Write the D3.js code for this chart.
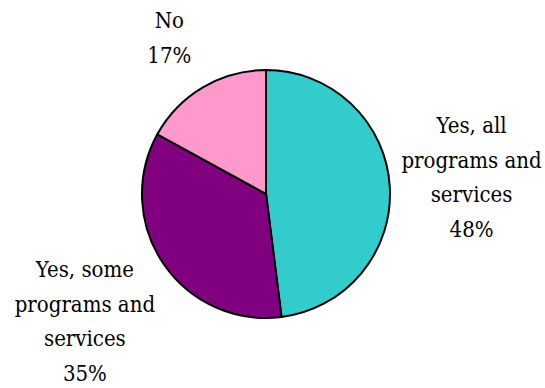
<!DOCTYPE html>
<html><head><meta charset="utf-8">
<script src="https://cdn.jsdelivr.net/npm/d3@7"></script>
<style>html,body{margin:0;padding:0;background:#fff;}svg{display:block;}</style>
</head><body>
<svg id="c" width="545" height="388"></svg>
<script>
const categories = ["Yes, all programs and services", "Yes, some programs and services", "No"];
const labelLines = [["Yes, all", "programs and", "services"], ["Yes, some", "programs and", "services"], ["No"]];
const values = [48, 35, 17];
const colors = ["#33CCCC", "#800080", "#FF99CC"];

// layout
const W = 545, H = 388, cx = 266, cy = 194, r = 124;
const labelRadius = [206, 219, 190];
const labelNudgeY = [-3, 5, 8];
const lineH = 34.5;

const svg = d3.select("#c");
const g = svg.append("g").attr("transform", `translate(${cx},${cy})`);
const pie = d3.pie().sort(null).value(d => d)(values);
const arc = d3.arc().innerRadius(0).outerRadius(r);

g.selectAll("path").data(pie).join("path")
  .attr("d", arc)
  .attr("fill", (d, i) => colors[i])
  .attr("stroke", "#000")
  .attr("stroke-width", 2)
  .attr("stroke-linejoin", "round");

pie.forEach((d, i) => {
  const la = d3.arc().innerRadius(labelRadius[i]).outerRadius(labelRadius[i]);
  const [x, y0] = la.centroid(d);
  const y = y0 + labelNudgeY[i];
  const lines = labelLines[i].concat([d.data + "%"]);
  const n = lines.length;
  const t = g.append("text")
    .attr("text-anchor", "middle")
    .style("font-family", '"DejaVu Serif Condensed", "DejaVu Serif", serif')
    .style("font-stretch", "condensed")
    .attr("font-size", 22)
    .attr("fill", "#000");
  lines.forEach((s, k) => {
    t.append("tspan").attr("x", x)
      .attr("y", y + (k - (n - 1) / 2) * lineH + 7)
      .text(s);
  });
});
</script>
</body></html>
